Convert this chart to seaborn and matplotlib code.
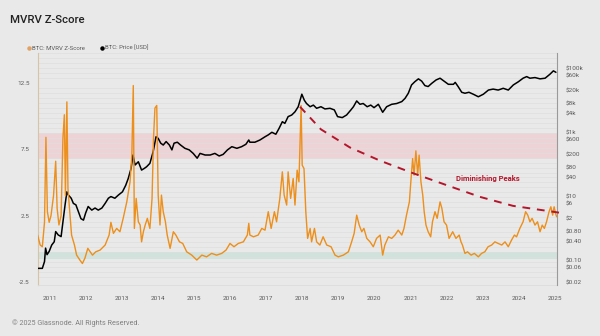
import numpy as np
import matplotlib
matplotlib.use("Agg")
import matplotlib.pyplot as plt
import seaborn as sns
from matplotlib.lines import Line2D

# ---------------- data ----------------
z_year = [2010.67, 2010.74, 2010.80, 2010.86, 2010.90, 2010.94, 2010.99, 2011.04, 2011.11, 2011.17,
          2011.21, 2011.26, 2011.32, 2011.37, 2011.41, 2011.44, 2011.48, 2011.51, 2011.57, 2011.61,
          2011.69, 2011.75, 2011.84, 2011.91, 2011.98, 2012.06, 2012.12, 2012.19, 2012.28, 2012.40,
          2012.54, 2012.65, 2012.70, 2012.77, 2012.86, 2012.95, 2013.04, 2013.14, 2013.23, 2013.28,
          2013.32, 2013.35, 2013.40, 2013.46, 2013.51, 2013.55, 2013.60, 2013.65, 2013.71, 2013.78,
          2013.84, 2013.88, 2013.92, 2013.97, 2014.01, 2014.06, 2014.10, 2014.15, 2014.21, 2014.26,
          2014.34, 2014.43, 2014.50, 2014.60, 2014.69, 2014.80, 2014.94, 2015.08, 2015.22, 2015.35,
          2015.49, 2015.63, 2015.77, 2015.89, 2016.00, 2016.11, 2016.23, 2016.37, 2016.48, 2016.52,
          2016.55, 2016.65, 2016.78, 2016.88, 2016.97, 2017.06, 2017.14, 2017.23, 2017.29, 2017.38,
          2017.45, 2017.50, 2017.57, 2017.61, 2017.68, 2017.75, 2017.80, 2017.86, 2017.91, 2017.97,
          2018.00, 2018.05, 2018.10, 2018.15, 2018.22, 2018.26, 2018.34, 2018.40, 2018.49, 2018.58,
          2018.68, 2018.80, 2018.91, 2019.00, 2019.14, 2019.28, 2019.37, 2019.44, 2019.51, 2019.58,
          2019.65, 2019.71, 2019.79, 2019.88, 2019.97, 2020.06, 2020.16, 2020.23, 2020.29, 2020.39,
          2020.48, 2020.57, 2020.66, 2020.76, 2020.82, 2020.89, 2020.97, 2021.01, 2021.06, 2021.10,
          2021.15, 2021.20, 2021.24, 2021.29, 2021.34, 2021.38, 2021.43, 2021.49, 2021.56, 2021.61,
          2021.68, 2021.74, 2021.82, 2021.87, 2021.93, 2022.00, 2022.07, 2022.17, 2022.26, 2022.35,
          2022.40, 2022.44, 2022.51, 2022.58, 2022.68, 2022.77, 2022.88, 2022.97, 2023.06, 2023.15,
          2023.25, 2023.34, 2023.43, 2023.53, 2023.62, 2023.71, 2023.80, 2023.88, 2023.94, 2024.03,
          2024.12, 2024.19, 2024.25, 2024.31, 2024.37, 2024.45, 2024.52, 2024.59, 2024.65, 2024.71,
          2024.77, 2024.84, 2024.89, 2024.94, 2024.98, 2025.02, 2025.05]
z_value = [1.04, 0.29, 0.16, 2.0, 8.4, 2.8, 2.0, 2.5, 4.0, 6.6,
           3.05, 1.8, 2.5, 8.3, 10.1, 4.0, 11.07, 4.55, 2.5, 1.04,
           0.29, -0.47, -0.84, -1.1, -0.7, 0.04, -0.2, -0.47, -0.22, -0.09,
           0.29, 1.04, 2.0, 1.17, 1.54, 1.29, 2.3, 3.54, 5.05, 7.06,
           12.3, 1.54, 3.8, 2.04, 1.8, 0.53, 1.29, 1.8, 2.3, 1.54,
           3.8, 8.3, 10.6, 10.8, 4.05, 1.8, 4.05, 2.8, 2.04, 1.04,
           0.04, 1.29, 1.04, 0.53, 0.41, -0.22, -0.47, -0.84, -0.47, -0.6,
           -0.34, -0.47, -0.34, -0.09, 0.41, 0.16, 0.41, 0.53, 1.04, 1.92,
           1.04, 0.91, 1.04, 1.54, 1.41, 2.8, 1.54, 2.8, 2.04, 3.8,
           5.8, 4.05, 3.3, 5.8, 3.8, 5.3, 3.3, 5.93, 5.05, 10.8,
           6.3, 6.05, 2.8, 0.79, 1.54, 0.53, 1.54, 0.53, 0.29, 0.91,
           0.29, 0.16, -0.47, -0.6, -0.47, -0.22, 0.53, 1.17, 2.54, 1.79,
           1.29, 1.54, 0.79, 0.53, 0.16, 0.79, 1.04, -0.47, 0.29, 0.91,
           0.79, 1.04, 1.41, 1.04, 1.54, 2.54, 3.54, 5.05, 6.8, 5.55,
           7.38, 5.55, 7.06, 5.05, 4.05, 2.8, 1.79, 1.29, 0.91, 2.04,
           2.8, 2.3, 3.54, 3.05, 2.04, 1.79, 0.79, 1.29, 0.79, 1.04,
           0.53, 0.29, -0.34, -0.22, -0.47, -0.34, -0.6, -0.34, -0.22, 0.16,
           0.29, 0.53, 0.41, 0.29, 0.53, 0.16, 0.66, 1.04, 0.91, 1.54,
           2.04, 2.8, 2.54, 2.04, 2.3, 1.79, 2.04, 1.29, 1.79, 1.54,
           2.04, 2.8, 3.17, 2.54, 3.17, 2.67, 2.42]

price_year = [2010.69, 2010.80, 2010.86, 2010.89, 2010.93, 2010.99, 2011.06, 2011.13, 2011.17, 2011.24,
              2011.32, 2011.37, 2011.43, 2011.48, 2011.52, 2011.60, 2011.66, 2011.73, 2011.80, 2011.87,
              2011.94, 2012.00, 2012.07, 2012.17, 2012.26, 2012.35, 2012.45, 2012.54, 2012.63, 2012.70,
              2012.81, 2012.91, 2013.02, 2013.11, 2013.18, 2013.26, 2013.31, 2013.37, 2013.46, 2013.55,
              2013.63, 2013.69, 2013.78, 2013.87, 2013.95, 2014.01, 2014.08, 2014.15, 2014.23, 2014.32,
              2014.39, 2014.45, 2014.54, 2014.63, 2014.75, 2014.87, 2014.98, 2015.09, 2015.17, 2015.31,
              2015.45, 2015.58, 2015.70, 2015.81, 2015.93, 2016.05, 2016.19, 2016.32, 2016.44, 2016.52,
              2016.55, 2016.69, 2016.83, 2016.97, 2017.06, 2017.16, 2017.27, 2017.36, 2017.45, 2017.52,
              2017.61, 2017.71, 2017.80, 2017.89, 2017.99, 2018.06, 2018.12, 2018.22, 2018.31, 2018.40,
              2018.52, 2018.63, 2018.77, 2018.89, 2018.98, 2019.11, 2019.23, 2019.35, 2019.42, 2019.51,
              2019.60, 2019.69, 2019.80, 2019.90, 2019.99, 2020.11, 2020.23, 2020.34, 2020.48, 2020.62,
              2020.76, 2020.85, 2020.94, 2021.03, 2021.12, 2021.22, 2021.31, 2021.40, 2021.49, 2021.59,
              2021.71, 2021.82, 2021.93, 2022.05, 2022.19, 2022.24, 2022.32, 2022.42, 2022.51, 2022.62,
              2022.74, 2022.88, 2023.02, 2023.16, 2023.29, 2023.43, 2023.57, 2023.71, 2023.85, 2023.99,
              2024.12, 2024.22, 2024.31, 2024.45, 2024.59, 2024.73, 2024.86, 2024.96, 2025.03]
price_usd = [0.056, 0.056, 0.091, 0.24, 0.15, 0.19, 0.30, 0.38, 0.79, 0.62,
             0.55, 1.6, 5.4, 13.8, 11, 8.7, 6.0, 5.4, 3.3, 2.0,
             1.8, 3.0, 4.8, 3.7, 4.3, 3.7, 4.3, 6.0, 8.7, 9.8,
             8.7, 11, 13.8, 22, 36, 75, 195, 95, 120, 66,
             75, 84, 107, 245, 725, 645, 457, 400, 513, 400,
             282, 457, 490, 400, 316, 282, 219, 155, 219, 195,
             195, 219, 182, 204, 282, 355, 316, 355, 422, 575,
             490, 490, 575, 725, 830, 1000, 870, 1330, 2140, 1900,
             3090, 3470, 4365, 6300, 15500, 10000, 7940, 6300, 7080, 5620,
             6300, 5370, 5620, 5010, 3090, 2880, 3470, 5010, 6300, 9550,
             7500, 7940, 6300, 7080, 5890, 7500, 4220, 6300, 7500, 7940,
             9120, 11500, 16600, 30200, 38000, 46800, 39800, 28800, 26900, 33900,
             43200, 49000, 39800, 31600, 31600, 36300, 26900, 17800, 16600, 17800,
             15500, 12900, 15500, 20900, 22400, 20900, 23700, 20900, 30200, 38000,
             49000, 55000, 49000, 51300, 46800, 49000, 64600, 83200, 75000]

trend_year = [2017.94, 2018.52, 2019.32, 2020.16, 2021.07, 2022.00, 2022.92, 2023.84, 2025.14]
trend_z = [10.7, 9.0, 7.64, 6.64, 5.7, 4.8, 3.92, 3.24, 2.72]

year_ticks = list(range(2011, 2026))
z_ticks = [12.5, 7.5, 2.5, -2.5]
price_ticks = [100000, 60000, 20000, 8000, 4000, 1000, 600, 200, 80, 40, 10, 6, 2,
               0.8, 0.4, 0.1, 0.06, 0.02]
price_tick_labels = ["$100k", "$60k", "$20k", "$8k", "$4k", "$1k", "$600", "$200", "$80",
                     "$40", "$10", "$6", "$2", "$0.80", "$0.40", "$0.10", "$0.06", "$0.02"]
red_band = (6.75, 8.75)
green_band = (-0.75, -0.25)

# ---------------- style ----------------
BG = "#e9e9e9"
ORANGE = "#ec8f1c"
DARKRED = "#b3162b"
TXT = "#5a5a5a"
GRID_STEP = 0.375

sns.set_theme(style="white")
plt.rcParams["font.family"] = ["Roboto", "DejaVu Sans"]

rect = [38 / 600, 1 - 285 / 336, (557 - 38) / 600, (285 - 53) / 336]
fig = plt.figure(figsize=(6, 3.36), dpi=100, facecolor=BG)

# back axis: z-score scale, background, bands, grid, left labels
ax = fig.add_axes(rect)
ax.set_facecolor(BG)
ax.set_zorder(1)
ax.axhspan(*red_band, color="#f3b9bd", alpha=0.45, lw=0, zorder=0)
ax.axhspan(*green_band, color="#b8ddd0", alpha=0.5, lw=0, zorder=0)
ax.set_xlim(2010.68, 2025.06)
ax.set_ylim(-2.72, 14.73)
ax.set_yticks(np.arange(-2.5, 14.8, GRID_STEP), minor=True)
ax.grid(True, which="minor", axis="y", color="#dedede", lw=0.5)
ax.grid(False, which="major")
ax.set_xticks(year_ticks)
ax.set_xticklabels([str(y) for y in year_ticks])
ax.set_yticks(z_ticks)
ax.set_yticklabels([str(z) for z in z_ticks])
ax.tick_params(axis="both", which="both", length=0, labelsize=4.6, labelcolor=TXT)
ax.tick_params(axis="x", pad=8)
ax.tick_params(axis="y", pad=6)

# middle axis: price (log)
pr = ax.twinx()
pr.set_zorder(2)
pr.patch.set_visible(False)
pr.set_yscale("log")
sns.lineplot(x=price_year, y=price_usd, ax=pr, color="black", lw=1.1, sort=False)
pr.set_ylim(0.0169, 300600)
pr.set_yticks(price_ticks)
pr.set_yticklabels(price_tick_labels)
pr.yaxis.set_minor_locator(matplotlib.ticker.NullLocator())
pr.grid(False)
pr.tick_params(axis="y", which="both", length=0, labelsize=4.6, labelcolor=TXT, pad=6)

# front axis: z-score series and annotation
fg = fig.add_axes(rect, sharex=ax, sharey=ax)
fg.set_zorder(3)
fg.patch.set_visible(False)
sns.lineplot(x=z_year, y=z_value, ax=fg, color=ORANGE, lw=1.0, sort=False)
sns.lineplot(x=trend_year, y=trend_z, ax=fg, color=DARKRED, lw=1.4, sort=False)
fg.lines[-1].set_dashes([4, 3.5])
fg.lines[-1].set_clip_on(False)
fg.text(2023.15, 5.33, "Diminishing Peaks", color=DARKRED, fontsize=5.5,
        fontweight="bold", ha="center", va="center")
fg.axis("off")

for a in (ax, pr):
    a.set_xlabel("")
    a.set_ylabel("")
    for s in a.spines.values():
        s.set_visible(False)
ax.spines["left"].set_visible(True)
ax.spines["left"].set_color("#d8c3a5")
ax.spines["left"].set_linewidth(0.8)
ax.spines["bottom"].set_visible(True)
ax.spines["bottom"].set_color("#dcdcdc")
ax.spines["bottom"].set_linewidth(0.6)
pr.spines["right"].set_visible(True)
pr.spines["right"].set_color("#9a9a9a")
pr.spines["right"].set_linewidth(0.8)

# title, legend, footer
fig.text(10 / 600, 1 - 20 / 336, "MVRV Z-Score", fontsize=8.2, color="#222222",
         fontweight="medium", va="center", ha="left")
handles = [Line2D([], [], marker="o", ls="none", color="#e0a265", markersize=2.2),
           Line2D([], [], marker="o", ls="none", color="black", markersize=2.2)]
fig.legend(handles, ["BTC: MVRV Z-Score", "BTC: Price [USD]"], loc="center left",
           bbox_to_anchor=(22 / 600, 1 - 48 / 336), frameon=False, fontsize=4.3,
           ncol=2, handlelength=0.5, handletextpad=0.3, columnspacing=2.6,
           labelcolor=TXT)
fig.text(12 / 600, 1 - 323 / 336, "\u00a9 2025 Glassnode. All Rights Reserved.",
         fontsize=5.2, color="#808080", va="center", ha="left")

fig.savefig("out.png", dpi=100, facecolor=BG)
